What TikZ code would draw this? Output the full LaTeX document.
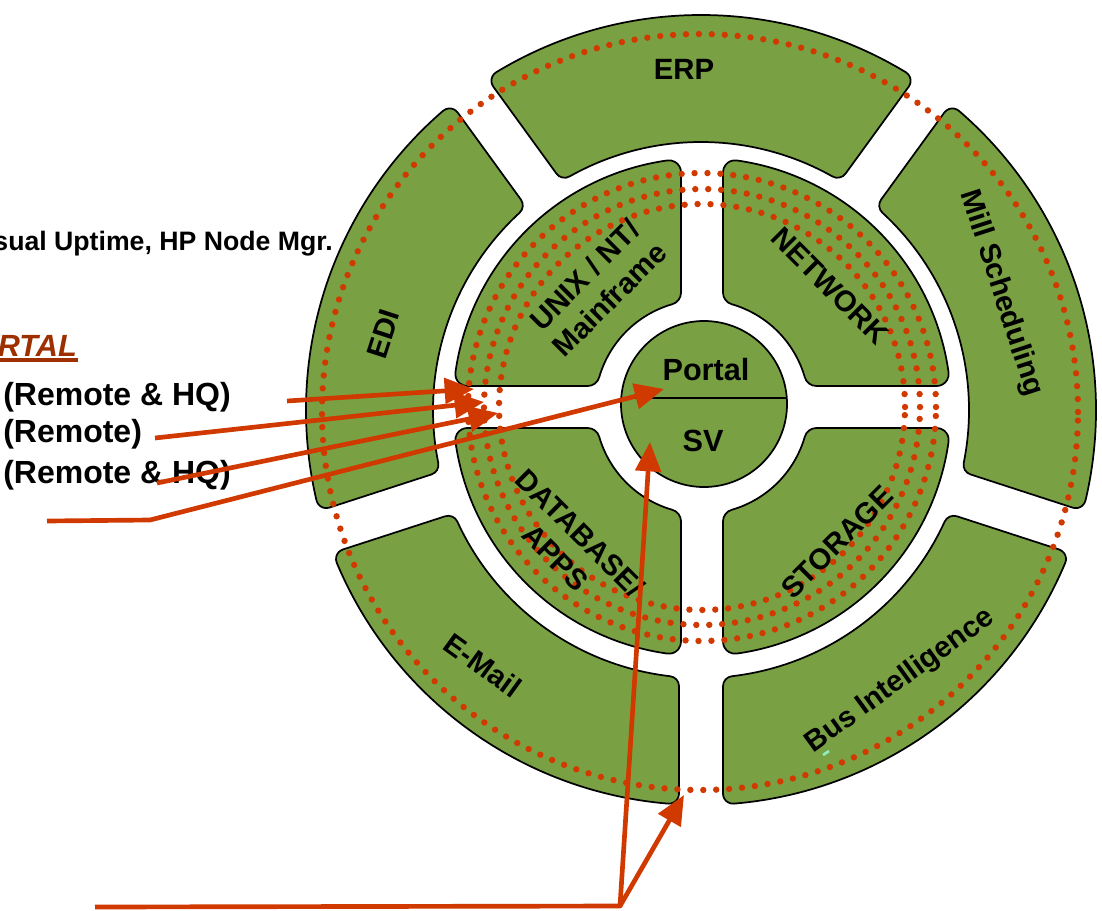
\documentclass[tikz,border=0pt]{standalone}
\usepackage{fontspec}
\setmainfont{Liberation Sans}
\usetikzlibrary{calc,arrows.meta}
\definecolor{segfill}{RGB}{121,161,68}
\definecolor{hot}{RGB}{208,58,0}
\definecolor{rust}{RGB}{158,48,0}
\definecolor{mint}{RGB}{140,240,190}

% Annular sector between two gap strips, with filleted corners.
% #1 centre, #2 start gap angle, #3 end gap angle, #4 inner radius,
% #5 outer radius, #6 half gap width, #7 corner radius
\newcommand\ringseg[7]{%
  \pgfmathsetmacro\rsPa{#2+asin((#6+#7)/(#5-#7))}%
  \pgfmathsetmacro\rsPb{#3-asin((#6+#7)/(#5-#7))}%
  \pgfmathsetmacro\rsQa{#2+asin((#6+#7)/(#4+#7))}%
  \pgfmathsetmacro\rsQb{#3-asin((#6+#7)/(#4+#7))}%
  \pgfmathsetmacro\rsQaa{\rsQa+180}%
  \pgfmathsetmacro\rsQbb{\rsQb+180}%
  \pgfmathsetmacro\rsUo{sqrt(#5-#7-#6-#7)*sqrt(#5-#7+#6+#7)}%
  \pgfmathsetmacro\rsUi{sqrt(#4+#7-#6-#7)*sqrt(#4+#7+#6+#7)}%
  \pgfmathsetmacro\rsAs{#2-90}%
  \pgfmathsetmacro\rsAe{#2+270}%
  \pgfmathsetmacro\rsBs{#3+90}%
  \path[seg] ($(#1)+(#2:\rsUo)+(#2+90:#6)$)
     arc[start angle=\rsAs, end angle=\rsPa, radius=#7]
     arc[start angle=\rsPa, end angle=\rsPb, radius=#5]
     arc[start angle=\rsPb, end angle=\rsBs, radius=#7]
     -- ($(#1)+(#3:\rsUi)+(#3-90:#6)$)
     arc[start angle=\rsBs, end angle=\rsQbb, radius=#7]
     arc[start angle=\rsQb, end angle=\rsQa, radius=#4]
     arc[start angle=\rsQaa, end angle=\rsAe, radius=#7]
     -- cycle;
}

\begin{document}
\begin{tikzpicture}[x=0.75pt,y=0.75pt,
  seg/.style={fill=segfill,draw=black,line width=1.3pt},
  dots/.style={draw=hot,line width=4.8pt,line cap=round,dash pattern=on 0pt off 9.7pt},
  lbl/.style={font=\bfseries\fontsize{22}{26}\selectfont,inner sep=0pt,align=center},
  hub/.style={font=\bfseries\fontsize{23}{27}\selectfont,inner sep=0pt},
  side/.style={font=\bfseries\fontsize{24}{28}\selectfont,inner sep=0pt,anchor=base west},
  arr/.style={draw=hot,line width=3.5pt,line join=round,-{Triangle[length=22pt,width=19pt]}},
  ul/.style={draw=rust,line width=2.3pt}]

\useasboundingbox (0,0) rectangle (1102,-910);
\fill[white] (0,0) rectangle (1102,-910);

% centres of the two rings, the dotted rings and the hub
\coordinate (Co) at (701,-410);
\coordinate (Ci) at (702,-407);
\coordinate (Cd) at (700,-412);
\coordinate (Cc) at (704,-404);

% outer ring: five application segments
\ringseg{Co}{-90}{-18}{268}{395}{22}{10}
\ringseg{Co}{-18}{54}{268}{395}{22}{10}
\ringseg{Co}{54}{126}{268}{395}{22}{10}
\ringseg{Co}{126}{198}{268}{395}{22}{10}
\ringseg{Co}{198}{270}{268}{395}{22}{10}

% inner ring: four infrastructure quadrants
\ringseg{Ci}{0}{90}{107}{249}{21}{12}
\ringseg{Ci}{90}{180}{107}{249}{21}{12}
\ringseg{Ci}{180}{270}{107}{249}{21}{12}
\ringseg{Ci}{270}{360}{107}{249}{21}{12}

% dotted rings
\draw[dots] (Cd) circle[radius=378];
\draw[dots] (Ci) circle[radius=203];
\draw[dots] (Ci) circle[radius=218];
\draw[dots] (Ci) circle[radius=234];

% hub
\draw[seg] (Cc) circle[radius=83];
\draw[line width=1.3pt] ($(Cc)+(-82.8,6)$) -- ($(Cc)+(82.8,6)$);
\node[hub] (portal) at (706,-370) {Portal};
\node[hub] (sv) at (703,-441) {SV};

% segment labels
\node[lbl] (erp) at (684,-69) {ERP};
\node[lbl,rotate=-72] (mill) at (1001,-293) {Mill Scheduling};
\node[lbl,rotate=36] (bus) at (900,-681) {Bus Intelligence};
\node[lbl,rotate=-36] (mail) at (483,-665) {E-Mail};
\node[lbl,rotate=72] (edi) at (383,-334) {EDI};
\node[lbl,rotate=45] (unix) at (597,-287) {UNIX / NT/\\Mainframe};
\node[lbl,rotate=-45] (net) at (830,-286) {NETWORK};
\node[lbl,rotate=-45] (db) at (568,-545) {DATABASE/\\APPS};
\node[lbl,rotate=45] (stor) at (837,-542) {STORAGE};
\draw[mint,line width=2pt] (823,-755) -- (829,-751);

% side notes
\node[side,anchor=base east,font=\bfseries\fontsize{20}{24}\selectfont] (uptime) at (333,-250) {sual Uptime, HP Node Mgr.};
\node[side,anchor=base east,text=rust,font=\bfseries\itshape\fontsize{23}{27}\selectfont] (rtal) at (77,-356) {RTAL};
\draw[ul] ([yshift=-3pt]rtal.base west) -- ([yshift=-3pt,xshift=1pt]rtal.base east);
\node[side] (r1) at (3,-405) {(Remote \& HQ)};
\node[side] (r2) at (3,-442) {(Remote)};
\node[side] (r3) at (3,-483) {(Remote \& HQ)};

% feeds
\coordinate (a0) at (287,-401);
\coordinate (a1) at (474,-389);
\coordinate (b0) at (155,-438);
\coordinate (b1) at (484,-402);
\coordinate (c0) at (157,-483);
\coordinate (c1) at (498,-413);
\coordinate (d0) at (47,-521);
\coordinate (d1) at (150,-520);
\coordinate (d2) at (664,-389);
\coordinate (e0) at (95,-907);
\coordinate (e1) at (620,-906);
\coordinate (e2) at (650,-442);
\coordinate (e3) at (684,-795);

\draw[arr] (a0) -- (a1);
\draw[arr] (b0) -- (b1);
\draw[arr] (c0) -- (c1);
\draw[arr] (d0) -- (d1) -- (d2);
\draw[arr] (e0) -- (e1) -- (e2);
\draw[arr] (e1) -- (e3);
\end{tikzpicture}
\end{document}
